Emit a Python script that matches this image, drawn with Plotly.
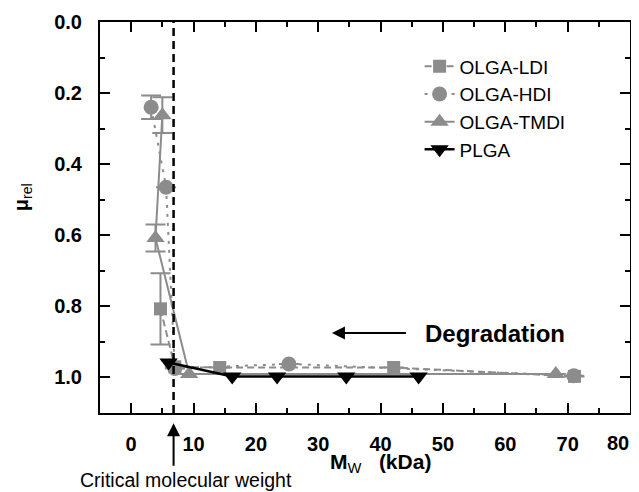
import plotly.graph_objects as go

# ---- data ----
ldi_x = [4.7, 7.0, 14.2, 42.1, 71.1]
ldi_y = [0.807, 0.970, 0.972, 0.972, 0.997]
ldi_err = [0.10, 0, 0, 0, 0]

hdi_x = [3.2, 5.6, 7.0, 25.3, 71.0]
hdi_y = [0.240, 0.465, 0.975, 0.962, 0.995]
hdi_err = [0.033, 0, 0, 0, 0]

tmdi_x = [5.0, 3.9, 9.3, 68.1]
tmdi_y = [0.262, 0.608, 0.990, 0.990]
tmdi_err = [0.05, 0.038, 0, 0]

plga_x = [6.0, 16.2, 23.4, 34.5, 46.1]
plga_y = [0.958, 0.997, 0.997, 0.997, 0.997]

critical_mw = 6.8
x_ticks = [0, 10, 20, 30, 40, 50, 60, 70, 80]
x_tick_labels = ["0", "10", "20", "30", "40", "50", "60", "70", "80"]
y_ticks = [0.0, 0.2, 0.4, 0.6, 0.8, 1.0]

GREY = "rgb(140,140,140)"
FONT = "Liberation Sans, Arial, sans-serif"

fig = go.Figure()

fig.add_trace(go.Scatter(
    x=ldi_x, y=ldi_y, name="OLGA-LDI", mode="lines+markers",
    line=dict(color=GREY, width=2, dash="7px,4px"),
    marker=dict(symbol="square", size=13, color=GREY),
    error_y=dict(type="data", array=ldi_err, color=GREY, thickness=2, width=10),
))
fig.add_trace(go.Scatter(
    x=hdi_x, y=hdi_y, name="OLGA-HDI", mode="lines+markers",
    line=dict(color=GREY, width=2, dash="3px,6px"),
    marker=dict(symbol="circle", size=15, color=GREY),
    error_y=dict(type="data", array=hdi_err, color=GREY, thickness=2, width=10),
))
fig.add_trace(go.Scatter(
    x=tmdi_x, y=tmdi_y, name="OLGA-TMDI", mode="lines+markers",
    line=dict(color=GREY, width=2),
    marker=dict(symbol="triangle-up", size=16, color=GREY),
    error_y=dict(type="data", array=tmdi_err, color=GREY, thickness=2, width=10),
))
fig.add_trace(go.Scatter(
    x=plga_x, y=plga_y, name="PLGA", mode="lines+markers",
    line=dict(color="black", width=2.5),
    marker=dict(symbol="triangle-down", size=16, color="black"),
))

# critical molecular weight dashed line
fig.add_shape(type="line", xref="x", yref="paper", x0=critical_mw, x1=critical_mw,
              y0=0, y1=1, line=dict(color="black", width=2.5, dash="8px,5px"))

annotations = [
    # Degradation arrow
    dict(x=32.2, y=0.875, ax=44.3, ay=0.875, xref="x", yref="y", axref="x", ayref="y",
         text="", showarrow=True, arrowhead=2, arrowsize=1.3, arrowwidth=2, arrowcolor="black"),
    dict(x=58.3, y=0.875, xref="x", yref="y", text="<b>Degradation</b>", showarrow=False,
         xanchor="center", yanchor="middle",
         font=dict(family=FONT, size=24, color="black")),
    # critical MW arrow
    dict(x=critical_mw, y=-0.026, xref="x", yref="paper", ax=0, ay=44, text="",
         showarrow=True, arrowhead=2, arrowsize=1.3, arrowwidth=2, arrowcolor="black"),
    dict(x=0.162, y=-0.171, xref="paper", yref="paper", text="Critical molecular weight",
         showarrow=False, xanchor="center", yanchor="middle",
         font=dict(family=FONT, size=19.5, color="black")),
    # axis titles
    dict(x=0.530, y=-0.128, xref="paper", yref="paper",
         text="<b>M</b><sub>W</sub><b>&nbsp;&nbsp;&nbsp;(kDa)</b>", showarrow=False,
         xanchor="center", yanchor="middle",
         font=dict(family=FONT, size=21, color="black")),
    dict(x=-0.147, y=0.552, xref="paper", yref="paper", textangle=-90,
         text="<b>μ</b><sub>rel</sub>", showarrow=False,
         xanchor="center", yanchor="middle",
         font=dict(family=FONT, size=20, color="black")),
    # last x tick label, kept inside the visible page
    dict(x=1.0, y=-0.077, xref="paper", yref="paper", text="<b>" + x_tick_labels[-1] + "</b>",
         showarrow=False, xanchor="right", yanchor="middle", xshift=1,
         font=dict(family=FONT, size=20, color="black")),
]

fig.update_layout(
    width=631, height=484,
    margin=dict(l=92, r=9, t=14, b=79, autoexpand=False),
    paper_bgcolor="white", plot_bgcolor="white",
    font=dict(family=FONT, color="black"),
    showlegend=True,
    legend=dict(x=0.603, y=0.935, xanchor="left", yanchor="top",
                bgcolor="rgba(0,0,0,0)", font=dict(family=FONT, size=19),
                tracegroupgap=0),
    annotations=annotations,
)

fig.update_xaxes(
    range=[-5, 80], tickmode="array", tickvals=x_ticks,
    ticktext=x_tick_labels[:-1] + [""], automargin=False,
    ticks="inside", ticklen=10, tickwidth=2, tickcolor="black",
    minor=dict(dtick=5, tick0=0, ticks="inside", ticklen=5, tickwidth=2, tickcolor="black"),
    showline=True, linewidth=2, linecolor="black", mirror="allticks",
    showgrid=False, zeroline=False,
    tickfont=dict(family=FONT, size=20, color="black", weight="bold"),
    ticklabelstandoff=12,
)
fig.update_yaxes(
    range=[1.1, 0], tickmode="array", tickvals=y_ticks, tickformat=".1f", automargin=False,
    ticklabeloverflow="allow",
    ticks="inside", ticklen=10, tickwidth=2, tickcolor="black",
    minor=dict(dtick=0.1, tick0=0, ticks="inside", ticklen=5, tickwidth=2, tickcolor="black"),
    showline=True, linewidth=2, linecolor="black", mirror="allticks",
    showgrid=False, zeroline=False,
    tickfont=dict(family=FONT, size=20, color="black", weight="bold"),
    ticklabelstandoff=12,
)

fig.write_html("out.html")
